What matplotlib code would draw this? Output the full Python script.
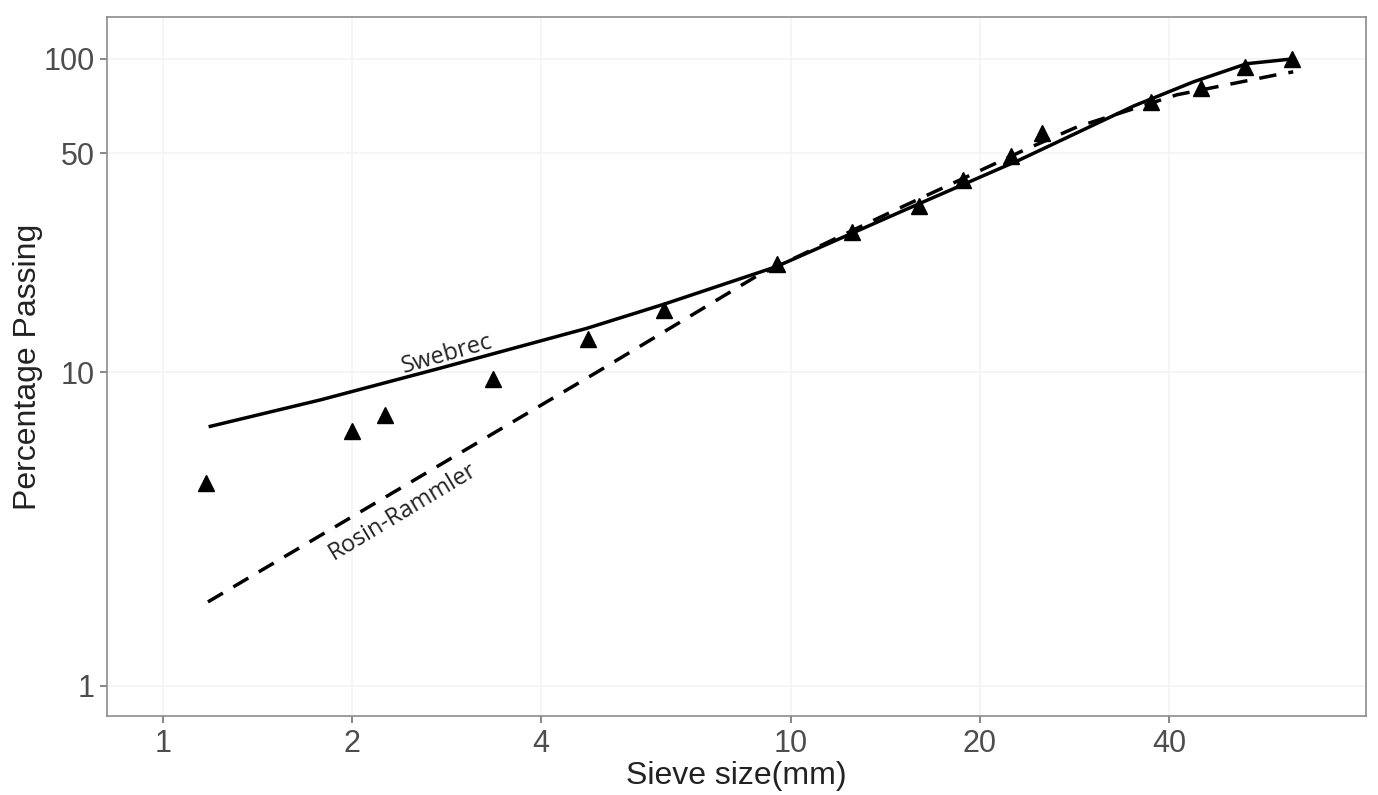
import matplotlib
matplotlib.use("Agg")
import matplotlib.pyplot as plt
from matplotlib.ticker import FixedLocator, NullLocator

# Observed data (triangles)
sieve_obs = [1.17, 2.0, 2.26, 3.35, 4.75, 6.29, 9.5, 12.5, 16.0, 18.8, 22.4, 25.1, 37.5, 45.0, 52.8, 62.9]
pass_obs = [4.44, 6.5, 7.3, 9.5, 12.8, 15.8, 22.2, 28.0, 34.0, 41.0, 49.0, 58.0, 73.0, 81.0, 94.0, 100.0]

# Swebrec fitted curve
swe_x = [1.183, 1.786, 2.738, 4.73, 6.29, 9.47, 15.22, 23.14, 35.2, 43.8, 53.2, 63.1]
swe_y = [6.70, 8.17, 10.25, 13.8, 16.5, 21.7, 33.0, 47.6, 70.8, 84.5, 96.5, 100.0]

# Rosin-Rammler fitted curve
rr_x = [1.18, 4.91, 8.80, 14.7, 23.6, 28.6, 41.2, 59.3, 63.1]
rr_y = [1.85, 10.0, 20.2, 33.0, 51.3, 60.7, 76.8, 88.9, 90.9]

x_ticks = [1, 2, 4, 10, 20, 40]
y_ticks = [1, 10, 50, 100]

fig = plt.figure(figsize=(13.78, 7.95), dpi=100)
ax = fig.add_axes([107/1378, 1-716/795, (1366-107)/1378, (716-17)/795])
ax.set_xscale('log')
ax.set_yscale('log')
ax.set_xlim(0.815, 82.4)
ax.set_ylim(0.80, 136)

ax.xaxis.set_major_locator(FixedLocator(x_ticks))
ax.yaxis.set_major_locator(FixedLocator(y_ticks))
ax.xaxis.set_minor_locator(NullLocator())
ax.yaxis.set_minor_locator(NullLocator())
ax.set_xticklabels([str(v) for v in x_ticks])
ax.set_yticklabels([str(v) for v in y_ticks])

ax.grid(True, which='major', color='#f4f4f4', lw=1.2)
ax.set_axisbelow(True)

ax.plot(swe_x, swe_y, color='black', lw=2.5, solid_capstyle='butt', solid_joinstyle='round')
ax.plot(rr_x, rr_y, color='black', lw=2.5, linestyle=(0, (5, 3.5)))
ax.plot(sieve_obs, pass_obs, linestyle='none', marker='^', color='black', markersize=11)

ax.text(2.84, 11.4, 'Swebrec', rotation=16, ha='center', va='center',
        rotation_mode='anchor', fontsize=17, family='Open Sans', color='#222222')
ax.text(2.41, 3.59, 'Rosin-Rammler', rotation=31, ha='center', va='center',
        rotation_mode='anchor', fontsize=17, family='Open Sans', color='#222222')

for s in ax.spines.values():
    s.set_color('#8c8c8c')
    s.set_linewidth(1.2)

ax.tick_params(axis='both', which='major', length=5, width=1.1, color='#666666',
               labelcolor='#4d4d4d', labelsize=22, pad=4)
for lbl in ax.get_xticklabels() + ax.get_yticklabels():
    lbl.set_family('Liberation Sans')

ax.set_xlabel('Sieve size(mm)', fontsize=23, family='Liberation Sans', color='#222222', labelpad=2)
ax.set_ylabel('Percentage Passing', fontsize=23, family='Liberation Sans', color='#222222', labelpad=0)

fig.savefig('out.png', dpi=100, facecolor='white')
